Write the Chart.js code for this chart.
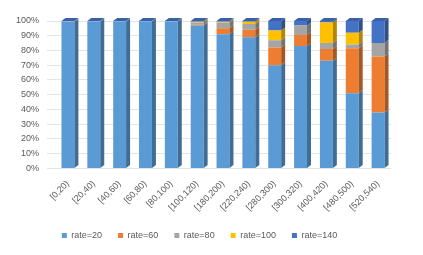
<!DOCTYPE html>
<html>
<head>
<meta charset="utf-8">
<script src="https://cdn.jsdelivr.net/npm/chart.js@4"></script>
<style>
  html, body { margin: 0; padding: 0; background: #fff; }
</style>
</head>
<body>
<canvas id="chart1" width="423" height="255"></canvas>
<script>
var categories = ['[0,20)', '[20,40)', '[40,60)', '[60,80)', '[80,100)', '[100,120)', '[180,200)',
                  '[220,240)', '[280,300)', '[300,320)', '[400,420)', '[480,500)', '[520,540)'];
var rate20  = [99.5, 99.6, 99.6, 99.6, 99.6, 97,  91,  89,  70,  83,  73, 51,   38];
var rate60  = [0,    0,    0,    0,    0,    0.5, 4,   5,   12,  7.5, 8,  30.5, 38];
var rate80  = [0.3,  0.2,  0.2,  0.2,  0.2,  1.5, 4,   4,   5,   6.5, 4,  2.5,  9];
var rate100 = [0,    0,    0,    0,    0,    0.5, 0.5, 1.5, 6.5, 0,   14, 8,    0];
var rate140 = [0.2,  0.2,  0.2,  0.2,  0.2,  0.5, 0.5, 0.5, 6.5, 3,   1,  8,    15];
var yTicks = [0, 10, 20, 30, 40, 50, 60, 70, 80, 90, 100];

var seriesNames = ['rate=20', 'rate=60', 'rate=80', 'rate=100', 'rate=140'];
var seriesData = [rate20, rate60, rate80, rate100, rate140];
var colors = ['#5B9BD5', '#ED7D31', '#A5A5A5', '#FFC000', '#4472C4'];

function shade(hex, f) {
    var r = parseInt(hex.substr(1, 2), 16), g = parseInt(hex.substr(3, 2), 16), b = parseInt(hex.substr(5, 2), 16);
    return 'rgb(' + Math.round(r * f) + ',' + Math.round(g * f) + ',' + Math.round(b * f) + ')';
}

// fake 3D side & top faces, taken from the bar elements
var depth = { id: 'depth', afterDatasetsDraw: function(chart) {
    var ctx = chart.ctx, dx = 4, dy = -3;
    ctx.save();
    chart.data.datasets.forEach(function(ds, i) {
        var meta = chart.getDatasetMeta(i);
        meta.data.forEach(function(bar) {
            var right = bar.x + bar.width / 2;
            var top = Math.min(bar.y, bar.base), bottom = Math.max(bar.y, bar.base);
            if (bottom - top < 0.1) return;
            ctx.fillStyle = shade(colors[i], 0.7);
            ctx.beginPath();
            ctx.moveTo(right, top); ctx.lineTo(right + dx, top + dy);
            ctx.lineTo(right + dx, bottom + dy); ctx.lineTo(right, bottom);
            ctx.closePath(); ctx.fill();
        });
    });
    // top cap of each stack
    var last = chart.data.datasets.length - 1;
    chart.getDatasetMeta(last).data.forEach(function(bar) {
        var right = bar.x + bar.width / 2, left = bar.x - bar.width / 2, top = bar.y;
        ctx.fillStyle = shade(colors[last], 0.85);
        ctx.beginPath();
        ctx.moveTo(left, top); ctx.lineTo(left + dx, top + dy);
        ctx.lineTo(right + dx, top + dy); ctx.lineTo(right, top);
        ctx.closePath(); ctx.fill();
    });
    ctx.restore();
}};

var datasets = [];
for (var i = 0; i < seriesNames.length; i++) {
    datasets.push({
        label: seriesNames[i],
        data: seriesData[i],
        backgroundColor: colors[i],
        borderWidth: 0,
        barPercentage: 0.5,
        categoryPercentage: 1
    });
}

var ctx = document.getElementById('chart1').getContext('2d');
var chart = new Chart(ctx, {
    type: 'bar',
    data: { labels: categories, datasets: datasets },
    plugins: [depth],
    options: {
        responsive: false,
        animation: false,
        devicePixelRatio: 1,
        layout: { padding: { left: 8, right: 32, top: 21, bottom: 5 } },
        plugins: {
            legend: {
                position: 'bottom',
                labels: { boxWidth: 5, boxHeight: 5, padding: 16, color: '#595959',
                          font: { family: '"Liberation Sans", sans-serif', size: 9 } }
            },
            tooltip: { enabled: false }
        },
        scales: {
            x: {
                stacked: true,
                grid: { display: false },
                border: { display: false },
                ticks: { color: '#595959', maxRotation: 45, minRotation: 45, padding: 2, autoSkip: false,
                         font: { family: '"Liberation Sans", sans-serif', size: 9 } }
            },
            y: {
                stacked: true,
                min: 0, max: 100,
                afterBuildTicks: function(axis) { axis.ticks = yTicks.map(function(v) { return { value: v }; }); },
                grid: { color: '#E4E4E4' },
                border: { display: false },
                ticks: { color: '#595959', padding: 8,
                         font: { family: '"Liberation Sans", sans-serif', size: 9 },
                         callback: function(v) { return v + '%'; } }
            }
        }
    }
});
</script>
</body>
</html>
